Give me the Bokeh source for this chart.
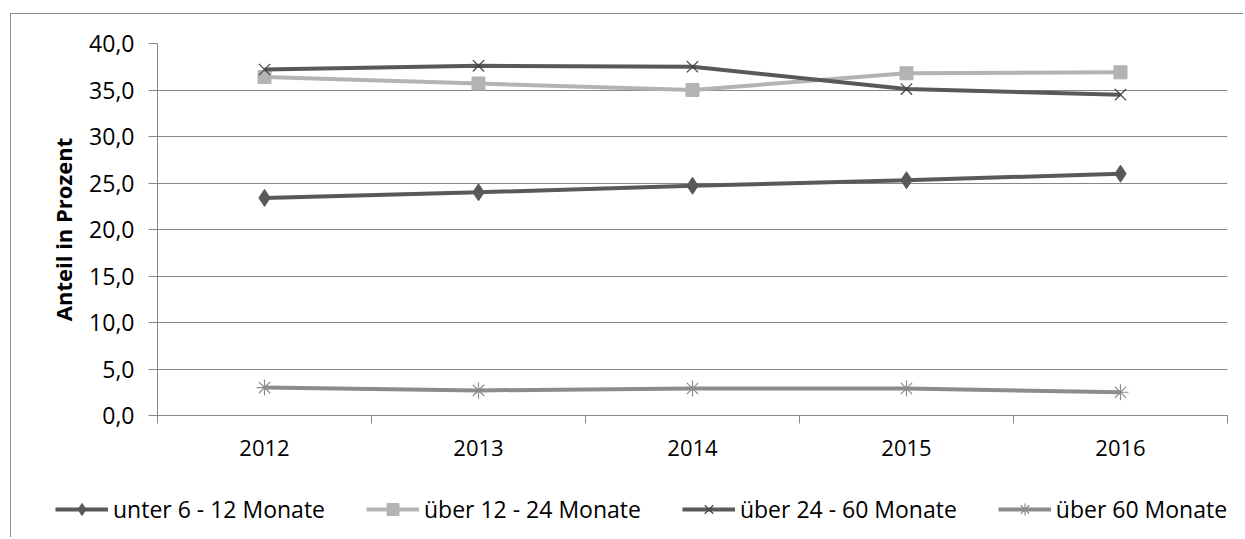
from bokeh.plotting import figure
from bokeh.layouts import column
from bokeh.models import (Range1d, FixedTicker, CustomJSTickFormatter, Legend, LegendItem)
from bokeh.embed import file_html
from bokeh.resources import INLINE

years = ["2012", "2013", "2014", "2015", "2016"]
unter_6_12 = [23.4, 24.0, 24.7, 25.3, 26.0]
ueber_12_24 = [36.4, 35.7, 35.0, 36.8, 36.9]
ueber_24_60 = [37.2, 37.6, 37.5, 35.1, 34.5]
ueber_60 = [3.0, 2.7, 2.9, 2.9, 2.5]
y_ticks = [0, 5, 10, 15, 20, 25, 30, 35, 40]

xs = list(range(1, len(years) + 1))
FONT = "Open Sans"

p = figure(frame_width=1070, frame_height=372, output_backend="svg", toolbar_location=None,
           x_range=Range1d(0.5, len(years) + 0.5), y_range=Range1d(0, 40),
           min_border_left=146, min_border_right=16, min_border_top=29, min_border_bottom=68)
p.outline_line_color = None
p.background_fill_color = "white"
p.frame_align = False

AX = "#868686"
xa = p.xaxis[0]
xa.ticker = FixedTicker(ticks=xs, minor_ticks=[x - 0.5 for x in xs] + [xs[-1] + 0.5])
xa.major_label_overrides = {x: y for x, y in zip(xs, years)}
xa.major_tick_out = 0
xa.major_tick_in = 0
xa.minor_tick_out = 8
xa.minor_tick_in = 0
xa.minor_tick_line_color = AX
xa.axis_line_color = AX
xa.major_label_text_font = FONT
xa.major_label_text_font_size = "22px"
xa.major_label_text_color = "black"
xa.major_label_standoff = 16

ya = p.yaxis[0]
ya.ticker = FixedTicker(ticks=y_ticks, minor_ticks=[])
ya.formatter = CustomJSTickFormatter(code="return tick.toFixed(1).replace('.', ',');")
ya.major_tick_out = 9
ya.major_tick_in = 0
ya.major_tick_line_color = AX
ya.axis_line_color = AX
ya.minor_tick_line_color = None
ya.major_label_text_font = FONT
ya.major_label_text_font_size = "23px"
ya.major_label_text_color = "black"
ya.major_label_standoff = 14
ya.axis_label = "Anteil in Prozent"
ya.axis_label_text_font = FONT
ya.axis_label_text_font_style = "bold"
ya.axis_label_text_font_size = "22px"
ya.axis_label_text_color = "black"
ya.axis_label_standoff = 8

p.xgrid.grid_line_color = None
p.ygrid.ticker = FixedTicker(ticks=y_ticks)
p.ygrid.grid_line_color = AX
p.ygrid.grid_line_width = 1

# legend strip (separate figure; its renderers lie outside its visible range)
lp = figure(width=146 + 1070 + 16, height=54, output_backend="svg", toolbar_location=None,
            x_range=Range1d(100, 101), y_range=Range1d(100, 101),
            x_axis_type=None, y_axis_type=None,
            min_border_left=0, min_border_right=0, min_border_top=0, min_border_bottom=0)
lp.outline_line_color = None
lp.xgrid.grid_line_color = None
lp.ygrid.grid_line_color = None
lp.frame_align = False

items = []
series = [
    ("unter 6 - 12 Monate", unter_6_12, "#595959", "diamond", 17, "#595959", 1),
    ("über 12 - 24 Monate", ueber_12_24, "#b3b3b3", "square", 13, "#b3b3b3", 1),
    ("über 24 - 60 Monate", ueber_24_60, "#595959", "x", 16, "#404040", 1.2),
    ("über 60 Monate", ueber_60, "#8c8c8c", "asterisk", 16, "#8c8c8c", 1.2),
]
for label, vals, col, marker, size, mcol, mlw in series:
    p.line(xs, vals, line_color=col, line_width=4)
    p.scatter(xs, vals, marker=marker, size=size, fill_color=mcol,
              line_color=mcol, line_width=mlw)
    l1 = lp.line(xs, vals, line_color=col, line_width=4)
    l2 = lp.scatter(xs, vals, marker=marker, size=size, fill_color=mcol,
                    line_color=mcol, line_width=mlw)
    items.append(LegendItem(label=label, renderers=[l1, l2]))

legend = Legend(items=items, orientation="horizontal", location=(44, 12),
                label_text_font=FONT, label_text_font_size="23px", label_text_color="black",
                glyph_width=53, glyph_height=30, label_standoff=5, spacing=41,
                label_height=30,
                border_line_color=None, background_fill_alpha=0, padding=0, margin=0)
lp.add_layout(legend, "center")

layout = column(p, lp, spacing=0)
layout.styles = {"margin-left": "10px", "margin-top": "13px",
                 "border-left": "1px solid #8c8c8c", "border-top": "1px solid #8c8c8c"}

open("out.html", "w").write(file_html(layout, INLINE))
